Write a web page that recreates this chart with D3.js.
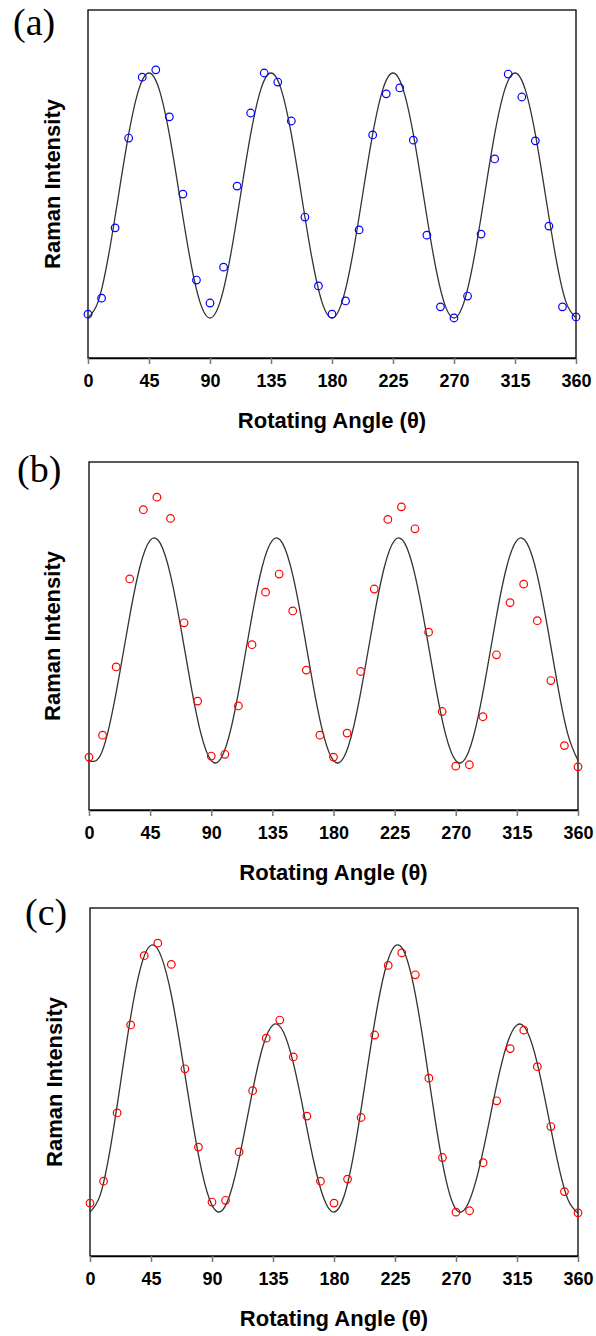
<!DOCTYPE html>
<html>
<head>
<meta charset="utf-8">
<script src="https://d3js.org/d3.v7.min.js"></script>
<style>
  body { margin: 0; background: #fff; }
  svg { display: block; }
</style>
</head>
<body>
<div id="chart"></div>
<script>
// angles where intensity was measured (degrees)
const angles = [0, 10, 20, 30, 40, 50, 60, 70, 80, 90, 100, 110, 120, 130, 140, 150, 160, 170, 180,
  190, 200, 210, 220, 230, 240, 250, 260, 270, 280, 290, 300, 310, 320, 330, 340, 350, 360];

// measured Raman intensity (arb. units), panel (a)
const intensityA = [12.6, 17.2, 37.4, 63.2, 80.7, 82.8, 69.3, 47.1, 22.4, 15.8, 26.1, 49.4, 70.4, 81.9, 79.3, 68.1, 40.5, 20.7, 12.6,
  16.4, 36.8, 64.1, 75.9, 77.6, 62.6, 35.3, 14.7, 11.5, 17.8, 35.6, 57.2, 81.6, 75.0, 62.4, 37.9, 14.7, 11.8];

// measured Raman intensity, panels (b) and (c) (same points)
const intensityBC = [15.2, 21.5, 41.1, 66.4, 86.3, 89.9, 83.8, 53.8, 31.3, 15.5, 16.0, 29.9, 47.5, 62.6, 67.8, 57.2, 40.2, 21.5, 15.2,
  22.1, 39.8, 63.5, 83.5, 87.1, 80.8, 51.1, 28.3, 12.6, 13.0, 26.8, 44.6, 59.6, 64.9, 54.4, 37.2, 18.5, 12.4];

// angles of the fitted curves
const fitAngles = [0, 7.5, 15, 22.5, 30, 37.5, 45, 52.5, 60, 67.5, 75, 82.5, 90, 97.5, 105, 112.5, 120, 127.5, 135, 142.5, 150, 157.5, 165, 172.5,
  180, 187.5, 195, 202.5, 210, 217.5, 225, 232.5, 240, 247.5, 255, 262.5, 270, 277.5, 285, 292.5, 300, 307.5, 315, 322.5, 330, 337.5, 345, 352.5, 360];

const fitA = [11.5, 16.2, 29.1, 46.7, 64.3, 77.2, 81.9, 77.2, 64.3, 46.7, 29.1, 16.2,
  11.5, 16.2, 29.1, 46.7, 64.3, 77.2, 81.9, 77.2, 64.3, 46.7, 29.1, 16.2,
  11.5, 16.2, 29.1, 46.7, 64.3, 77.2, 81.9, 77.2, 64.3, 46.7, 29.1, 16.2,
  11.5, 16.2, 29.1, 46.7, 64.3, 77.2, 81.9, 77.2, 64.3, 46.7, 29.1, 16.2, 11.5];

const fitB = [14.2, 15.1, 24.2, 39.1, 55.8, 69.9, 77.5, 76.6, 67.5, 52.6, 35.9, 21.8,
  14.2, 15.1, 24.2, 39.1, 55.8, 69.9, 77.5, 76.6, 67.5, 52.6, 35.9, 21.8,
  14.2, 15.1, 24.2, 39.1, 55.8, 69.9, 77.5, 76.6, 67.5, 52.6, 35.9, 21.8,
  14.2, 15.1, 24.2, 39.1, 55.8, 69.9, 77.5, 76.6, 67.5, 52.6, 35.9, 21.8, 14.2];

const fitC = [12.6, 17.5, 31.0, 49.7, 68.7, 83.1, 89.3, 86.1, 75.0, 58.3, 40.1, 24.3,
  14.6, 13.1, 19.9, 32.7, 47.6, 60.2, 66.4, 64.5, 55.4, 41.7, 27.3, 16.5,
  12.6, 17.3, 30.3, 48.5, 67.2, 81.9, 89.1, 86.7, 75.2, 57.5, 38.2, 22.1,
  13.4, 14.0, 22.0, 34.8, 49.1, 60.7, 66.4, 64.5, 55.3, 41.5, 27.1, 16.3, 12.3];

const angleTicks = [0, 45, 90, 135, 180, 225, 270, 315, 360];

const W = 596, H = 1336;

const svg = d3.select("#chart").append("svg")
    .attr("width", W)
    .attr("height", H);

// one panel of the figure
function createPanel(p) {
    const x = d3.scaleLinear().domain([0, 360]).range([p.left, p.right]);
    const y = d3.scaleLinear().domain([0, 100]).range([p.bottom, p.top]);

    const g = svg.append("g");

    // panel letter
    g.append("text")
        .attr("x", p.labelX)
        .attr("y", p.labelY)
        .style("font-family", "'Liberation Serif', 'Times New Roman', serif")
        .style("font-size", "38px")
        .text(p.label);

    // frame
    g.append("rect")
        .attr("x", p.left)
        .attr("y", p.top)
        .attr("width", p.right - p.left)
        .attr("height", p.bottom - p.top)
        .attr("fill", "none")
        .attr("stroke", "#000")
        .attr("stroke-width", 1.3);

    // x axis
    const ax = g.append("g")
        .attr("transform", `translate(0,${p.bottom})`)
        .call(d3.axisBottom(x).tickValues(angleTicks).tickSize(6).tickPadding(10).tickSizeOuter(0));
    ax.select(".domain").attr("stroke", "#000").attr("stroke-width", 1.3);
    ax.selectAll(".tick line").attr("stroke", "#777").attr("stroke-width", 1.5);
    ax.selectAll(".tick text")
        .attr("fill", "#000")
        .style("font-family", "'Liberation Sans', Arial, sans-serif")
        .style("font-weight", "bold")
        .style("font-size", "18px");

    g.append("text")
        .attr("x", (p.left + p.right) / 2)
        .attr("y", p.bottom + 70)
        .attr("text-anchor", "middle")
        .style("font-family", "'Liberation Sans', Arial, sans-serif")
        .style("font-weight", "bold")
        .style("font-size", "22px")
        .text("Rotating Angle (θ)");

    g.append("text")
        .attr("transform", `translate(${p.yLabelX},${(p.top + p.bottom) / 2}) rotate(-90)`)
        .attr("text-anchor", "middle")
        .style("font-family", "'Liberation Sans', Arial, sans-serif")
        .style("font-weight", "bold")
        .style("font-size", "22px")
        .text("Raman Intensity");

    // fitted curve
    const line = d3.line()
        .x((d, i) => x(fitAngles[i]))
        .y(d => y(d))
        .curve(d3.curveNatural);

    g.append("path")
        .datum(p.fit)
        .attr("d", line)
        .attr("fill", "none")
        .attr("stroke", "#333")
        .attr("stroke-width", 1.3);

    // measured points
    g.selectAll(".pt")
        .data(p.values)
        .enter()
        .append("circle")
        .attr("class", "pt")
        .attr("cx", (d, i) => x(angles[i]))
        .attr("cy", d => y(d))
        .attr("r", 3.8)
        .attr("fill", "none")
        .attr("stroke", p.color)
        .attr("stroke-width", 1.2);
}

createPanel({ label: "(a)", labelX: 13, labelY: 35, left: 88, right: 576, top: 10, bottom: 358,
    yLabelX: 60, values: intensityA, fit: fitA, color: "#0000ff" });
createPanel({ label: "(b)", labelX: 17, labelY: 482, left: 89, right: 578, top: 462, bottom: 810,
    yLabelX: 60, values: intensityBC, fit: fitB, color: "#ff0000" });
createPanel({ label: "(c)", labelX: 25, labelY: 925, left: 90, right: 578, top: 908, bottom: 1256,
    yLabelX: 62, values: intensityBC, fit: fitC, color: "#ff0000" });
</script>
</body>
</html>
